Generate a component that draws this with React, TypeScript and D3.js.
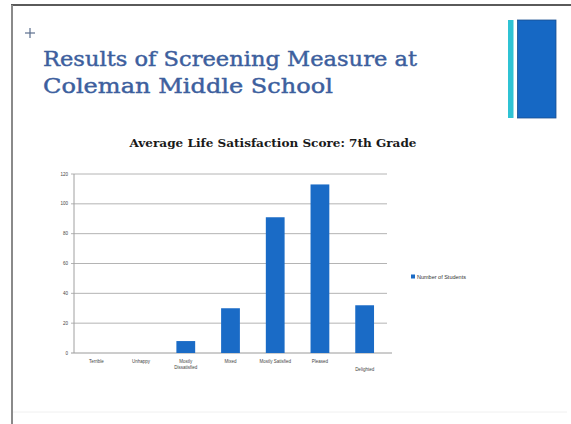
import React from "react";
import * as d3 from "d3";

// Life satisfaction ratings (Delighted–Terrible scale) and student counts
const categories = [
  "Terrible",
  "Unhappy",
  "Mostly Dissatisfied",
  "Mixed",
  "Mostly Satisfied",
  "Pleased",
  "Delighted",
];
const studentCounts = [0, 0, 8, 30, 91, 113, 32];
const yTicks = [0, 20, 40, 60, 80, 100, 120];
const seriesName = "Number of Students";
const slideTitleLines = ["Results of Screening Measure at", "Coleman Middle School"];
const chartTitle = "Average Life Satisfaction Score: 7th Grade";

const W = 571;
const H = 424;
const plot = { left: 74, right: 387, top: 174, bottom: 353 };

export default function App() {
  const x = d3
    .scaleBand<string>()
    .domain(categories)
    .range([plot.left, plot.right])
    .paddingInner(0.58)
    .paddingOuter(0.29);
  const y = d3.scaleLinear().domain([0, 120]).range([plot.bottom, plot.top]);

  const barColor = "#1a6bc6";
  const titleColor = "#3d5f9e";

  return (
    <div style={{ position: "absolute", left: 0, top: 0 }}>
      <svg width={W} height={H} style={{ display: "block", background: "#fff" }}>
        {/* slide frame */}
        <line x1={11} x2={W} y1={5} y2={5} stroke="#5a5a5a" strokeWidth={2} />
        <line x1={12} x2={12} y1={5} y2={H} stroke="#8a8a8a" strokeWidth={2} />
        <line x1={13} x2={567} y1={412} y2={412} stroke="#f0f0f0" strokeWidth={1} />

        {/* corner decoration */}
        <g stroke="#5b6e8e" strokeWidth={1.2}>
          <line x1={25} x2={35} y1={33} y2={33} />
          <line x1={30} x2={30} y1={28} y2={38} />
        </g>
        <rect x={508} y={20} width={5.5} height={98} fill="#2fc3d4" />
        <rect x={517.5} y={20} width={38.5} height={98} fill="#1668c4" stroke="#1a4f8f" strokeWidth={0.8} />

        {/* slide title */}
        {slideTitleLines.map((t, i) => (
          <text
            key={i}
            x={43}
            y={66 + i * 27}
            fill={titleColor}
            stroke={titleColor}
            strokeWidth={0.45}
            fontFamily="'DejaVu Serif', serif"
            fontSize={21}
            textLength={i === 0 ? 374 : 290}
            lengthAdjust="spacingAndGlyphs"
          >
            {t}
          </text>
        ))}

        {/* chart title */}
        <text
          x={273}
          y={147}
          textAnchor="middle"
          fill="#1a1a1a"
          fontFamily="'DejaVu Serif', serif"
          fontWeight="bold"
          fontSize={10.5}
          textLength={287}
          lengthAdjust="spacingAndGlyphs"
        >
          {chartTitle}
        </text>

        {/* gridlines and y tick labels */}
        {yTicks.map((t) => (
          <g key={t}>
            <line
              x1={plot.left - 3}
              x2={plot.right + (t === 0 ? 5 : 0)}
              y1={y(t)}
              y2={y(t)}
              stroke={t === 0 ? "#9a9a9a" : "#b4b4b4"}
              strokeWidth={1}
            />
            <text
              x={plot.left - 6}
              y={y(t)}
              dy="0.35em"
              textAnchor="end"
              fontFamily="'Liberation Sans', Arial, sans-serif"
              fontSize={4.5}
              fill="#444"
            >
              {t}
            </text>
          </g>
        ))}
        <line x1={plot.left} x2={plot.left} y1={plot.top} y2={plot.bottom} stroke="#a0a0a0" strokeWidth={1} />

        {/* bars */}
        {categories.map((c, i) => (
          <rect
            key={c}
            x={x(c)}
            y={y(studentCounts[i])}
            width={x.bandwidth()}
            height={plot.bottom - y(studentCounts[i])}
            fill={barColor}
          />
        ))}

        {/* category labels */}
        {categories.map((c, i) => {
          const cx = (x(c) as number) + x.bandwidth() / 2;
          // only the longest label wraps onto two lines
          const lines = c === "Mostly Dissatisfied" ? c.split(" ") : [c];
          const y0 = i === categories.length - 1 ? 371 : 363;
          return (
            <text
              key={c}
              x={cx}
              y={y0}
              textAnchor="middle"
              fontFamily="'Liberation Sans', Arial, sans-serif"
              fontSize={4.5}
              fill="#444"
            >
              {lines.map((l, j) => (
                <tspan key={j} x={cx} dy={j === 0 ? 0 : 6}>
                  {l}
                </tspan>
              ))}
            </text>
          );
        })}

        {/* legend */}
        <rect x={411} y={274.5} width={4} height={4} fill={barColor} />
        <text
          x={417}
          y={278.5}
          fontFamily="'Liberation Sans', Arial, sans-serif"
          fontSize={5.5}
          fill="#333"
        >
          {seriesName}
        </text>
      </svg>
    </div>
  );
}
